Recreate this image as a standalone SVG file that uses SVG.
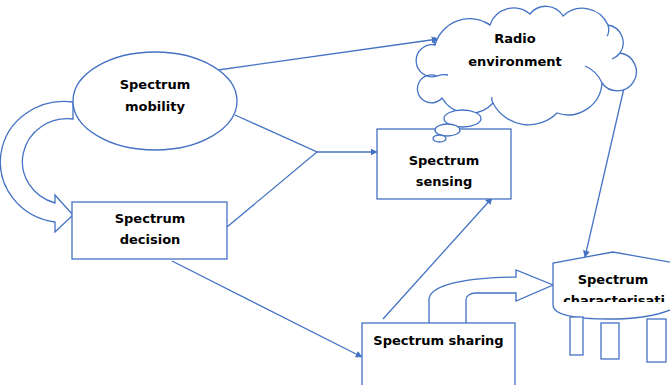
<svg xmlns="http://www.w3.org/2000/svg" width="670" height="385" viewBox="0 0 670 385">
  <style>
    .shape { fill: #ffffff; stroke: #4472C4; stroke-width: 1.3; }
    .line { fill: none; stroke: #4472C4; stroke-width: 1.3; }
    .label { font-family: "DejaVu Sans", "Liberation Sans", sans-serif; font-weight: bold; font-size: 13px; fill: #000000; text-anchor: middle; }
  </style>
  <defs>
    <marker id="arrow" viewBox="0 0 10 10" refX="9" refY="5" markerWidth="7" markerHeight="7" markerUnits="userSpaceOnUse" orient="auto">
      <path d="M0,0 L10,5 L0,10 Z" fill="#4472C4"/>
    </marker>
    <!-- text frame of the characterisation shape cuts the second line -->
    <clipPath id="charClip">
      <rect x="553" y="250" width="130" height="52"/>
    </clipPath>
  </defs>

  <rect width="670" height="385" fill="#ffffff"/>

  <!-- connectors -->
  <g id="connectors">
    <line class="line" x1="218" y1="70" x2="438" y2="39" marker-end="url(#arrow)"/>
    <polyline class="line" points="235,115 317,152 227,227"/>
    <line class="line" x1="317" y1="152" x2="377" y2="152" marker-end="url(#arrow)"/>
    <line class="line" x1="172" y1="261" x2="362" y2="357" marker-end="url(#arrow)"/>
    <line class="line" x1="383" y1="319" x2="492" y2="198" marker-end="url(#arrow)"/>
    <line class="line" x1="627" y1="75" x2="585" y2="257" marker-end="url(#arrow)"/>
    <!-- curved block arrow: mobility back to decision -->
    <path class="shape" d="M73,102 A63,60 0 0 0 55,222 L55,232 L73,215 L55,195 L55,203 A45,43 0 0 1 73,119 Z"/>
    <!-- bent block arrow: sharing to characterisation -->
    <path class="shape" d="M429,323 V300 C429,288 452,278 516,277 V270 L553,285 L516,301 V293 L476,293 C470,293 466,296 466,300 V323"/>
  </g>

  <!-- Spectrum mobility -->
  <g id="mobility">
    <ellipse class="shape" cx="155" cy="101" rx="82" ry="49"/>
    <text class="label" x="155" y="89">Spectrum</text>
    <text class="label" x="155" y="111">mobility</text>
  </g>

  <!-- Spectrum decision -->
  <g id="decision">
    <rect class="shape" x="72" y="202" width="155" height="57"/>
    <text class="label" x="150" y="223">Spectrum</text>
    <text class="label" x="150" y="244">decision</text>
  </g>

  <!-- Spectrum sensing -->
  <g id="sensing">
    <rect class="shape" x="377" y="129" width="134" height="70"/>
    <text class="label" x="444" y="165">Spectrum</text>
    <text class="label" x="444" y="186">sensing</text>
  </g>

  <!-- Radio environment (thought cloud) -->
  <g id="radio">
    <path class="shape" d="M435,45
      A36,36 0 0 1 490,25
      A25,25 0 0 1 530,14
      A20,20 0 0 1 563,16
      A28,28 0 0 1 608,25
      A18,18 0 0 1 620,53
      A19,19 0 1 1 602,83
      A34,34 0 0 1 557,113
      A40,40 0 0 1 493,103
      A32,32 0 0 1 442,98
      A14,14 0 1 1 437,76
      A16,16 0 1 1 435,45 Z"/>
    <path class="line" d="M435,45 Q433,41 435,37"/>
    <path class="line" d="M490,25 Q487,23 484,22"/>
    <path class="line" d="M608,25 Q610,32 607,36"/>
    <path class="line" d="M620,53 Q617,57 612,59"/>
    <path class="line" d="M602,83 Q597,71 585,66"/>
    <path class="line" d="M493,103 Q491,100 492,97"/>
    <path class="line" d="M437,76 Q443,74 448,75"/>
    <ellipse class="shape" cx="462.5" cy="118.5" rx="18.5" ry="8.5"/>
    <ellipse class="shape" cx="447.5" cy="130" rx="12.5" ry="6"/>
    <ellipse class="shape" cx="439.5" cy="138.5" rx="6.5" ry="3.5"/>
    <text class="label" x="515" y="43">Radio</text>
    <text class="label" x="515" y="66">environment</text>
  </g>

  <!-- Spectrum sharing -->
  <g id="sharing">
    <rect class="shape" x="362" y="323" width="153" height="70"/>
    <text class="label" x="438.5" y="345">Spectrum sharing</text>
  </g>

  <!-- Spectrum characterisation -->
  <g id="characterisation">
    <path class="shape" d="M553,305 V263 L613,252 L680,264 V305 C665,314 640,319 610,319 C575,319 553,315 553,305 Z"/>
    <text class="label" x="613" y="284">Spectrum</text>
    <text class="label" x="614" y="305" clip-path="url(#charClip)">characterisati</text>
    <rect class="shape" x="570" y="317" width="13" height="38"/>
    <rect class="shape" x="601" y="323" width="18" height="36"/>
    <rect class="shape" x="647" y="319" width="19" height="43"/>
  </g>
</svg>
